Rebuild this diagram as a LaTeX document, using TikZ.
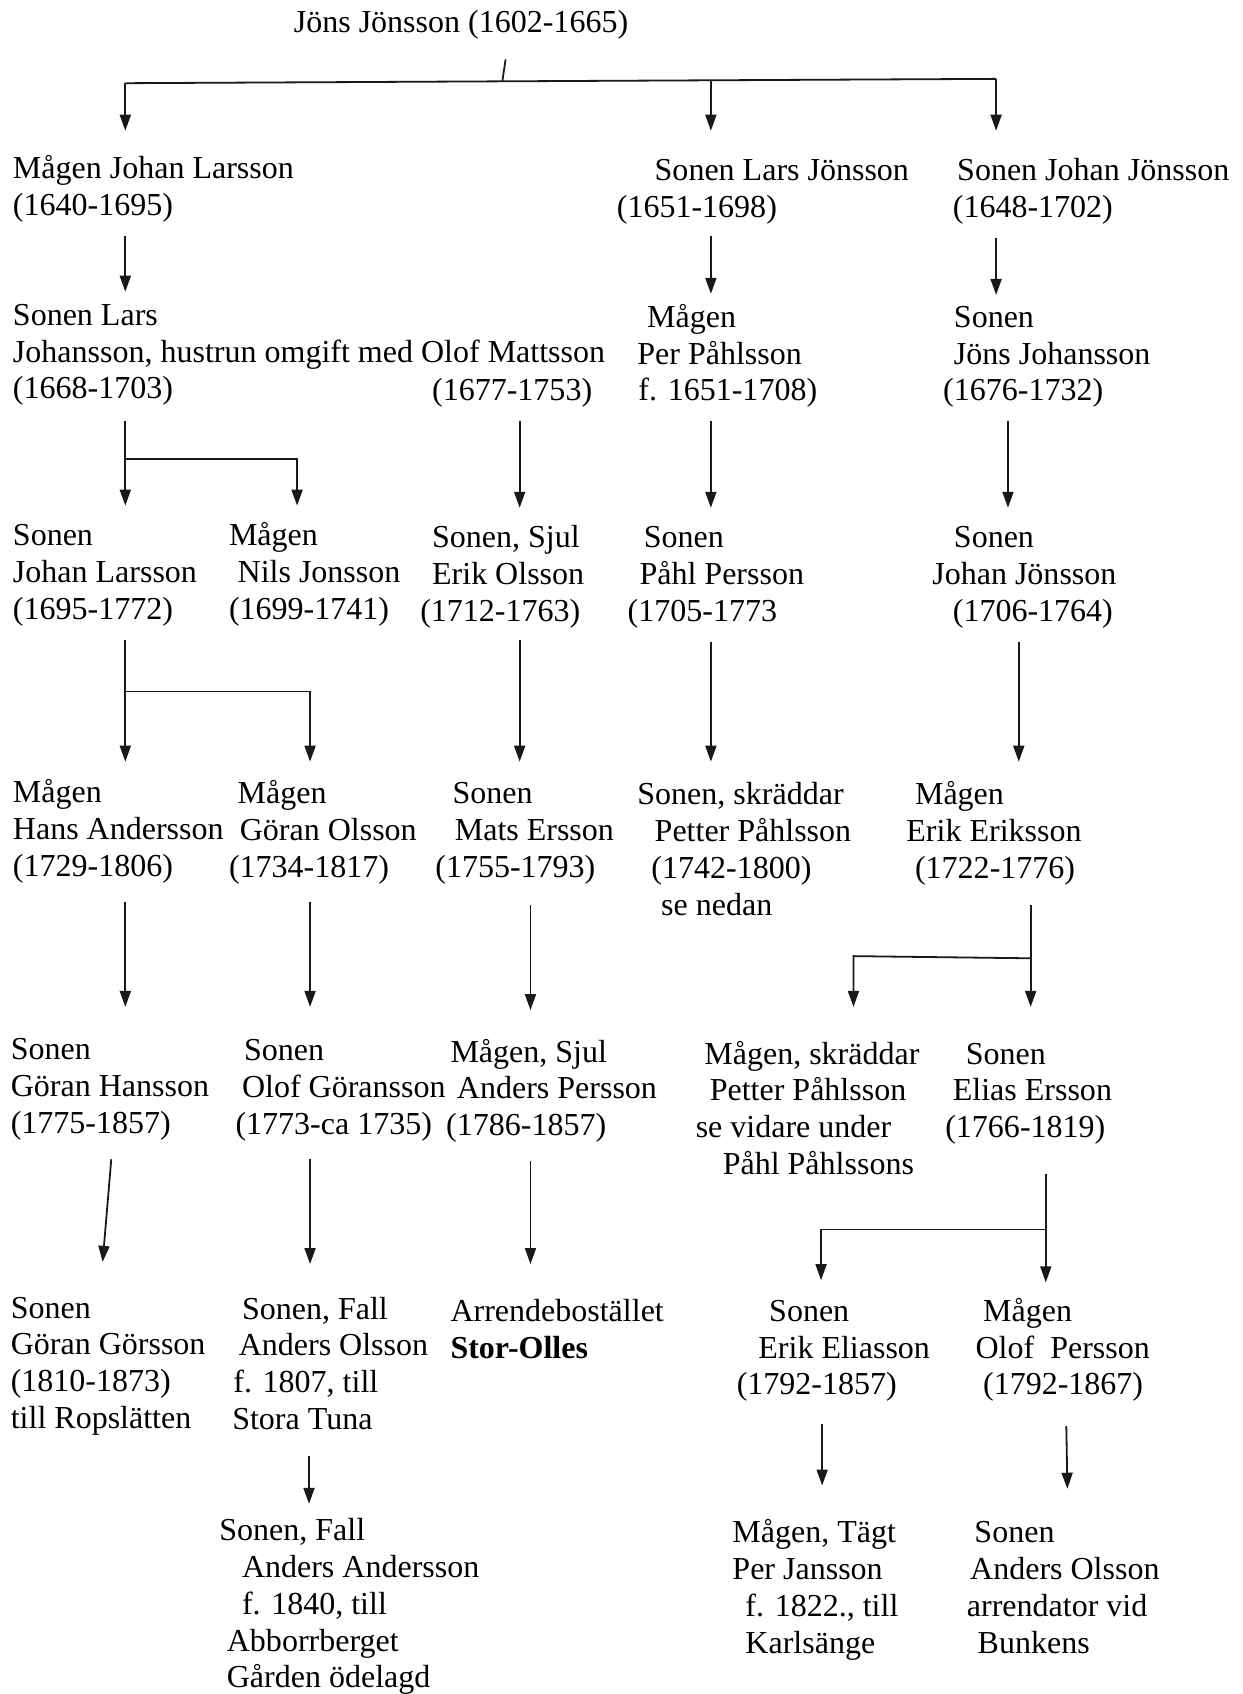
\documentclass[tikz,border=0pt]{standalone}
\usepackage{fontspec}
\setmainfont{Liberation Serif}
\usetikzlibrary{arrows.meta}
\newdimen\pxu \pxu=0.54pt
\newcommand\ind[1]{\hspace*{#1\pxu}}
\newcommand\fst{\rule{0pt}{13pt}}
\begin{document}
\begin{tikzpicture}[x=0.54pt,y=-0.54pt,
  person/.style={anchor=north west, inner sep=0pt, outer sep=0pt, align=left, yshift=13pt,
    font=\fontsize{16}{18.4}\selectfont, text=black},
  conn/.style={line width=0.9pt, draw=black!90},
  arr/.style={conn, -{Triangle[length=8pt,width=5.5pt]}}]
\useasboundingbox (0,0) rectangle (1150,1568);
% ---------- nodes ----------
\node[person] (J0) at (272,30) {\fst J\"ons J\"onsson (1602-1665)};
\node[person] (A1) at (12,165) {\fst M\aa gen Johan Larsson\\(1640-1695)};
\node[person] (B1) at (571,167) {\fst\ind{35}Sonen Lars J\"onsson\\(1651-1698)};
\node[person] (C1) at (882,167) {\fst\ind{4}Sonen Johan J\"onsson\\(1648-1702)};

\node[person] (A2) at (12,301) {\fst Sonen Lars\\Johansson, hustrun omgift med Olof Mattsson\\(1668-1703)};
\node[person] (O2) at (400,371) {\fst(1677-1753)};
\node[person] (B2) at (590,303) {\fst\ind{9}M\aa gen\\Per P\aa hlsson\\\ind{1}f. 1651-1708)};
\node[person] (C2) at (873,303) {\fst\ind{10}Sonen\\\ind{10}J\"ons Johansson\\(1676-1732)};

\node[person] (A3) at (12,505) {\fst Sonen\\Johan Larsson\\(1695-1772)};
\node[person] (A3b) at (212,505) {\fst M\aa gen\\\ind{8}Nils Jonsson\\(1699-1741)};
\node[person] (O3) at (389,507) {\fst\ind{11}Sonen, Sjul\\\ind{11}Erik Olsson\\(1712-1763)};
\node[person] (B3) at (581,507) {\fst\ind{15}Sonen\\\ind{11}P\aa hl Persson\\(1705-1773};
\node[person] (C3) at (863,507) {\fst\ind{20}Sonen\\Johan J\"onsson\\\ind{19}(1706-1764)};

\node[person] (A4) at (12,743) {\fst M\aa gen\\Hans Andersson\\(1729-1806)};
\node[person] (A4b) at (212,744) {\fst\ind{8}M\aa gen\\\ind{10}G\"oran Olsson\\(1734-1817)};
\node[person] (O4) at (403,744) {\fst\ind{16}Sonen\\\ind{18}Mats Ersson\\(1755-1793)};
\node[person] (B4) at (590,745) {\fst Sonen, skr\"addar\\\ind{16}Petter P\aa hlsson\\\ind{13}(1742-1800)\\\ind{22}se nedan};
\node[person] (C4) at (839,745) {\fst\ind{8}M\aa gen\\Erik Eriksson\\\ind{8}(1722-1776)};

\node[person] (A5) at (10,981) {\fst Sonen\\G\"oran Hansson\\(1775-1857)};
\node[person] (A5b) at (218,982) {\fst\ind{8}Sonen\\\ind{6}Olof G\"oransson\\(1773-ca 1735)};
\node[person] (O5) at (413,983) {\fst\ind{4}M\aa gen, Sjul\\\ind{10}Anders Persson\\(1786-1857)};
\node[person] (B5) at (644,985) {\fst\ind{8}M\aa gen, skr\"addar\\\ind{13}Petter P\aa hlsson\\se vidare under\\\ind{25}P\aa hl P\aa hlssons};
\node[person] (C5) at (875,985) {\fst\ind{19}Sonen\\\ind{7}Elias Ersson\\(1766-1819)};

\node[person] (A6) at (10,1220) {\fst Sonen\\G\"oran G\"orsson\\(1810-1873)\\till Ropsl\"atten};
\node[person] (A6b) at (215,1221) {\fst\ind{9}Sonen, Fall\\\ind{6}Anders Olsson\\\ind{1}f. 1807, till\\Stora Tuna};
\node[person] (O6) at (417,1223) {\fst Arrendebost\"allet\\\textbf{Stor-Olles}};
\node[person] (C6a) at (682,1223) {\fst\ind{30}Sonen\\\ind{20}Erik Eliasson\\(1792-1857)};
\node[person] (C6b) at (903,1223) {\fst\ind{7}M\aa gen\\Olof\ \ Persson\\\ind{7}(1792-1867)};

\node[person] (A7) at (203,1426) {\fst Sonen, Fall\\\ind{21}Anders Andersson\\\ind{21}f. 1840, till\\\ind{7}Abborrberget\\\ind{7}G\aa rden \"odelagd};
\node[person] (C7a) at (678,1428) {\fst M\aa gen, T\"agt\\Per Jansson\\\ind{12}f. 1822., till\\\ind{12}Karls\"ange};
\node[person] (C7b) at (895,1428) {\fst\ind{7}Sonen\\\ind{3}Anders Olsson\\arrendator vid\\\ind{10}Bunkens};

% ---------- connector points ----------
\path (468,55) coordinate (j0s) (465,75) coordinate (j0m)
      (116,77) coordinate (t1) (658,74.5) coordinate (t2) (922,73) coordinate (t3)
      (116,121) coordinate (a1n) (658,121) coordinate (b1n) (922,121) coordinate (c1n);
\path (116,218) coordinate (a1s) (116,270) coordinate (a2n)
      (658,218) coordinate (b1s) (658,272) coordinate (b2n)
      (922,220) coordinate (c1s) (922,273) coordinate (c2n);
\path (116,390) coordinate (a2s) (116,425) coordinate (a2j) (275,425) coordinate (a2k)
      (116,468) coordinate (a3n) (275,468) coordinate (a3bn)
      (481,390) coordinate (o2s) (481,470) coordinate (o3n)
      (658,390) coordinate (b2s) (658,470) coordinate (b3n)
      (933,390) coordinate (c2s) (933,470) coordinate (c3n);
\path (116,592) coordinate (a3s) (116,640) coordinate (a3j) (287,640) coordinate (a3k)
      (116,705) coordinate (a4n) (287,705) coordinate (a4bn)
      (481,592) coordinate (o3s) (481,705) coordinate (o4n)
      (658,594) coordinate (b3s) (658,705) coordinate (b4n)
      (943,594) coordinate (c3s) (943,705) coordinate (c4n);
\path (116,835) coordinate (a4s) (116,932) coordinate (a5n)
      (287,835) coordinate (a4bs) (287,932) coordinate (a5bn)
      (491,838) coordinate (o4s) (491,935) coordinate (o5n)
      (954,838) coordinate (c4s) (954,887) coordinate (c4j) (790,885) coordinate (c4k)
      (954,932) coordinate (c5n) (790,932) coordinate (b5n);
\path (103,1073) coordinate (a5s) (95,1168) coordinate (a6n)
      (287,1073) coordinate (a5bs) (287,1170) coordinate (a6bn)
      (491,1075) coordinate (o5s) (491,1170) coordinate (o6n)
      (968,1087) coordinate (c5s) (968,1138) coordinate (c5j) (760,1138) coordinate (c5k)
      (968,1187) coordinate (c6bn) (760,1185) coordinate (c6an);
\path (286,1348) coordinate (a6bs) (286,1392) coordinate (a7n)
      (761,1318) coordinate (c6as) (761,1375) coordinate (c7an)
      (987,1320) coordinate (c6bs) (988,1378) coordinate (c7bn);

% ---------- connectors ----------
\draw[conn] (j0s) -- (j0m);
\draw[conn] (t1) -- (t3);
\draw[arr] (t1) -- (a1n);
\draw[arr] (t2) -- (b1n);
\draw[arr] (t3) -- (c1n);

\draw[arr] (a1s) -- (a2n);
\draw[arr] (b1s) -- (b2n);
\draw[arr] (c1s) -- (c2n);

\draw[arr] (a2s) -- (a3n);
\draw[arr] (a2j) -- (a2k) -- (a3bn);
\draw[arr] (o2s) -- (o3n);
\draw[arr] (b2s) -- (b3n);
\draw[arr] (c2s) -- (c3n);

\draw[arr] (a3s) -- (a4n);
\draw[arr] (a3j) -- (a3k) -- (a4bn);
\draw[arr] (o3s) -- (o4n);
\draw[arr] (b3s) -- (b4n);
\draw[arr] (c3s) -- (c4n);

\draw[arr] (a4s) -- (a5n);
\draw[arr] (a4bs) -- (a5bn);
\draw[arr] (o4s) -- (o5n);
\draw[arr] (c4s) -- (c5n);
\draw[arr] (c4j) -- (c4k) -- (b5n);

\draw[arr] (a5s) -- (a6n);
\draw[arr] (a5bs) -- (a6bn);
\draw[arr] (o5s) -- (o6n);
\draw[arr] (c5s) -- (c6bn);
\draw[arr] (c5j) -- (c5k) -- (c6an);

\draw[arr] (a6bs) -- (a7n);
\draw[arr] (c6as) -- (c7an);
\draw[arr] (c6bs) -- (c7bn);
\end{tikzpicture}
\end{document}
